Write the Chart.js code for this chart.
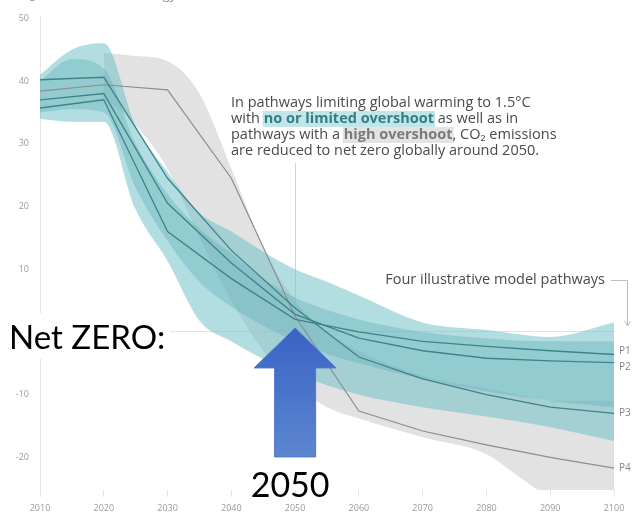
<!DOCTYPE html>
<html>
<head>
<meta charset="utf-8">
<script src="https://cdn.jsdelivr.net/npm/chart.js"></script>
<style>
  html, body { margin: 0; padding: 0; background: #ffffff; }
  canvas { display: block; }
</style>
</head>
<body>
<canvas id="chart" width="635" height="519"></canvas>
<script>
// Global net CO2 emissions (GtCO2/yr) – ranges and illustrative pathways
const bandYears = [2010, 2015, 2020, 2025, 2030, 2035, 2040, 2045, 2050, 2055, 2060, 2070, 2080, 2090, 2100];
const tealUpper = [41, 45, 46, 33, 25.5, 19, 16, 12.8, 10, 8, 5.8, 1.5, 0.3, -0.8, 1.5];
const tealLower = [34, 33.5, 33.5, 19.5, 11.3, 1.8, -1.5, -4.3, -6.5, -8.5, -10, -12, -13.5, -15.2, -17.4];
const tealCoreUpper = [40, 43.5, 42, 30, 22, 16.5, 12.5, 8.5, 5.5, 3.5, 2, 0, -1, -1.5, -1.5];
const tealCoreLower = [35, 35.5, 35, 23, 14.5, 8, 4, 1, -1.5, -3.5, -5, -7.5, -9.5, -11, -12];

const grayYears = [2020, 2025, 2030, 2035, 2040, 2045, 2050, 2055, 2060, 2070, 2080, 2085, 2090, 2100];
const grayUpper = [44.5, 44, 43.2, 38, 26, 13.5, 5, 0, -3, -7, -9, -10, -11, -11];
const grayLower = [37.5, 33, 26, 15, 5, -3, -8.5, -12, -13.8, -16.8, -19.5, -23, -26, -26.4];

const pathYears = [2010, 2020, 2030, 2040, 2050, 2060, 2070, 2080, 2090, 2100];
const p1 = [35.7, 37, 16, 8.5, 2, 0, -1.5, -2.3, -3, -3.6];
const p2 = [37, 38, 20.5, 11, 2.8, -1, -3, -4.2, -4.6, -4.9];
const p3 = [40.2, 40.6, 24.5, 13, 3.8, -4, -7.5, -10, -12, -13];
const p4 = [38.4, 39.4, 38.6, 24.5, 2.5, -12.6, -15.8, -18, -20, -21.7];
const pathNames = ['P1', 'P2', 'P3', 'P4'];
const pathLabelNudge = [-3, 4, 0, 0];

const xTicks = [2010, 2020, 2030, 2040, 2050, 2060, 2070, 2080, 2090, 2100];
const yTicks = [-20, -10, 0, 10, 20, 30, 40, 50];
const netZeroYear = 2050;

const noteLines = [
  [{ t: 'In pathways limiting global warming to 1.5°C' }],
  [{ t: 'with ' }, { t: 'no or limited overshoot', hl: 'teal' }, { t: ' as well as in' }],
  [{ t: 'pathways with a ' }, { t: 'high overshoot', hl: 'gray' }, { t: ', CO₂ emissions' }],
  [{ t: 'are reduced to net zero globally around 2050.' }]
];

const pts = (xs, ys) => xs.map((x, i) => ({ x: x, y: ys[i] }));

const band = (data, color, fill, order, clip) => ({
  data: data, borderWidth: 0, pointRadius: 0, fill: fill,
  backgroundColor: color, cubicInterpolationMode: 'monotone', order: order,
  clip: clip === undefined ? 0 : clip
});
const line = (data, color, width) => ({
  data: data, borderColor: color, borderWidth: width, pointRadius: 0,
  fill: false, tension: 0, order: 0
});

const TEAL = 'rgba(115,193,200,0.55)';
const TEAL_CORE = 'rgba(80,168,178,0.32)';
const GRAY = 'rgba(198,198,198,0.5)';

function drawNote(ctx, x, y0, lh) {
  const base = '14.5px "Open Sans", sans-serif';
  const bold = 'bold 14.5px "Open Sans", sans-serif';
  ctx.textBaseline = 'middle';
  ctx.textAlign = 'left';
  noteLines.forEach((segs, i) => {
    let cx = x;
    const cy = y0 + i * lh;
    segs.forEach(s => {
      ctx.font = s.hl ? bold : base;
      const w = ctx.measureText(s.t).width;
      if (s.hl) {
        ctx.fillStyle = s.hl === 'teal' ? '#c4e5e8' : '#e3e3e3';
        ctx.fillRect(cx - 1, cy - 8, w + 2, 16);
        ctx.fillStyle = s.hl === 'teal' ? '#2f7f86' : '#7a7a7a';
      } else {
        ctx.fillStyle = '#4a4a4a';
      }
      ctx.fillText(s.t, cx, cy);
      cx += w;
    });
  });
}

const overlay = {
  id: 'overlay',
  beforeDatasetsDraw(chart) {
    const { ctx, scales: { x, y } } = chart;
    const lx = Math.round(x.getPixelForValue(netZeroYear)) + 0.5;
    ctx.save();
    ctx.strokeStyle = '#d4d4d4';
    ctx.lineWidth = 1;
    ctx.beginPath();
    ctx.moveTo(lx, 163);
    ctx.lineTo(lx, y.getPixelForValue(3));
    ctx.stroke();
    ctx.restore();
  },
  afterDraw(chart) {
    const { ctx, chartArea: a, scales: { x, y } } = chart;
    ctx.save();

    // partial heading above the plot
    ctx.font = '13px "Open Sans", sans-serif';
    ctx.fillStyle = '#8a8a8a';
    ctx.textBaseline = 'alphabetic';
    ctx.textAlign = 'left';
    ctx.fillText('CO₂ emissions from energy', 12, -1);

    drawNote(ctx, 231, 103, 16);

    // pathway call-out
    ctx.font = '14.5px "Open Sans", sans-serif';
    ctx.fillStyle = '#4a4a4a';
    ctx.textAlign = 'right';
    ctx.textBaseline = 'middle';
    ctx.fillText('Four illustrative model pathways', 605, 280);
    ctx.strokeStyle = '#bdbdbd';
    ctx.lineWidth = 1;
    ctx.beginPath();
    ctx.moveTo(611, 280.5);
    ctx.lineTo(627.5, 280.5);
    ctx.lineTo(627.5, 325);
    ctx.stroke();
    ctx.beginPath();
    ctx.moveTo(624.5, 321);
    ctx.lineTo(627.5, 326);
    ctx.lineTo(630.5, 321);
    ctx.stroke();

    // pathway names at the right end
    const ends = [p1, p2, p3, p4];
    ctx.font = '10px "Open Sans", sans-serif';
    ctx.fillStyle = '#858585';
    ctx.textAlign = 'left';
    ends.forEach((arr, i) => {
      const py = y.getPixelForValue(arr[arr.length - 1]) + pathLabelNudge[i];
      ctx.fillText(pathNames[i], a.right + 5, py);
    });

    // "Net ZERO:" label on a white box
    ctx.fillStyle = '#ffffff';
    ctx.fillRect(6, 313, 164, 46);
    ctx.font = '33px Lato, sans-serif';
    ctx.fillStyle = '#000000';
    ctx.textAlign = 'left';
    ctx.textBaseline = 'alphabetic';
    ctx.fillText('Net ZERO:', 9, 349);

    // arrow pointing at net zero in 2050
    const cx = x.getPixelForValue(netZeroYear);
    const tip = y.getPixelForValue(0) - 4;
    const headBase = tip + 40, bottom = tip + 129;
    const headHalf = 41, shaftHalf = 20.5;
    const g = ctx.createLinearGradient(0, tip, 0, bottom);
    g.addColorStop(0, '#3963c4');
    g.addColorStop(1, '#5c86cf');
    ctx.beginPath();
    ctx.moveTo(cx, tip);
    ctx.lineTo(cx + headHalf, headBase);
    ctx.lineTo(cx + shaftHalf, headBase);
    ctx.lineTo(cx + shaftHalf, bottom);
    ctx.lineTo(cx - shaftHalf, bottom);
    ctx.lineTo(cx - shaftHalf, headBase);
    ctx.lineTo(cx - headHalf, headBase);
    ctx.closePath();
    ctx.fillStyle = g;
    ctx.fill();
    ctx.strokeStyle = '#4d79cc';
    ctx.lineWidth = 1;
    ctx.stroke();

    ctx.font = '34px Lato, sans-serif';
    ctx.fillStyle = '#000000';
    ctx.textAlign = 'center';
    ctx.textBaseline = 'middle';
    ctx.fillText('2050', cx - 5, 486);

    ctx.restore();
  }
};

new Chart(document.getElementById('chart'), {
  type: 'line',
  data: {
    datasets: [
      line(pts(pathYears, p1), '#3f8388', 1.3),
      line(pts(pathYears, p2), '#3f8388', 1.3),
      line(pts(pathYears, p3), '#3f8388', 1.3),
      line(pts(pathYears, p4), '#8e8e8e', 1.2),
      band(pts(bandYears, tealCoreUpper), TEAL_CORE, '+1', 1),
      band(pts(bandYears, tealCoreLower), TEAL_CORE, false, 1),
      band(pts(bandYears, tealUpper), TEAL, '+1', 2),
      band(pts(bandYears, tealLower), TEAL, false, 2),
      band(pts(grayYears, grayUpper), GRAY, '+1', 3, false),
      band(pts(grayYears, grayLower), GRAY, false, 3, false)
    ]
  },
  options: {
    responsive: false,
    animation: false,
    devicePixelRatio: 1,
    layout: { padding: { top: 16, right: 21, left: 0, bottom: 0 } },
    plugins: { legend: { display: false }, tooltip: { enabled: false } },
    scales: {
      x: {
        type: 'linear', min: 2010, max: 2100,
        afterBuildTicks: s => { s.ticks = xTicks.map(v => ({ value: v })); },
        afterFit: s => { s.height = 29; },
        border: { display: false },
        grid: { drawOnChartArea: false, drawTicks: true, tickLength: 7, color: '#e6e6e6' },
        ticks: {
          color: '#9a9a9a', padding: 6, maxRotation: 0,
          font: { family: '"Open Sans", sans-serif', size: 9 },
          callback: v => String(v)
        }
      },
      y: {
        min: -25.2, max: 50.3,
        afterBuildTicks: s => { s.ticks = yTicks.map(v => ({ value: v })); },
        afterFit: s => { s.width = 40; },
        border: { display: true, color: '#e4e4e4' },
        grid: {
          drawTicks: false,
          color: c => (c.tick && c.tick.value === 0 ? '#e2e2e2' : 'rgba(0,0,0,0)')
        },
        ticks: {
          color: '#9a9a9a', padding: 11, autoSkip: false,
          font: { family: '"Open Sans", sans-serif', size: 9 },
          callback: v => String(v)
        }
      }
    }
  },
  plugins: [overlay]
});
</script>
</body>
</html>
